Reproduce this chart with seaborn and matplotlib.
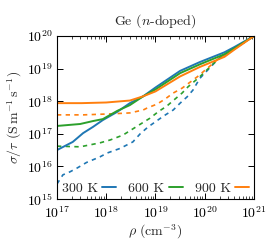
import numpy as np
import pandas as pd
import matplotlib
matplotlib.use("Agg")
import matplotlib.pyplot as plt
import seaborn as sns
from matplotlib.lines import Line2D

# ---- data (log10 values) ----
temps = ["300 K", "600 K", "900 K"]
colors = ["#1f77b4", "#2ca02c", "#ff7f0e"]

logrho_300_solid = [17, 17.32, 17.53, 17.73, 17.93, 18.22, 18.48, 18.75, 19.0, 19.5, 19.9, 20.4, 20.6, 21]
logsig_300_solid = [16.5, 16.75, 17.02, 17.21, 17.42, 17.67, 17.94, 18.15, 18.42, 18.93, 19.20, 19.50, 19.66, 20.0]

logrho_600_solid = [17, 17.47, 17.73, 17.93, 18.22, 18.48, 18.75, 19.0, 19.5, 19.9, 20.4, 20.6, 21]
logsig_600_solid = [17.24, 17.30, 17.39, 17.45, 17.70, 17.88, 18.15, 18.36, 18.86, 19.13, 19.44, 19.62, 20.0]

logrho_900_solid = [17, 17.5, 18.0, 18.48, 18.75, 19.0, 19.5, 19.9, 20.4, 20.6, 21]
logsig_900_solid = [17.94, 17.94, 17.96, 18.02, 18.15, 18.30, 18.76, 19.05, 19.36, 19.58, 20.0]

logrho_300_dash = [17, 17.12, 17.26, 17.41, 17.6, 17.87, 18.02, 18.28, 18.54, 18.69, 18.85, 19.17, 19.36, 19.5, 19.64, 19.76, 19.9, 20.27, 20.6, 21]
logsig_300_dash = [15.46, 15.74, 15.83, 15.95, 16.12, 16.29, 16.41, 16.55, 16.75, 17.0, 17.21, 17.55, 17.73, 17.94, 18.13, 18.34, 18.7, 19.29, 19.62, 20.0]

logrho_600_dash = [17, 17.47, 17.87, 18.08, 18.34, 18.73, 18.89, 19.05, 19.23, 19.4, 19.54, 19.66, 19.9, 20.27, 20.6, 21]
logsig_600_dash = [16.62, 16.60, 16.72, 16.81, 16.96, 17.33, 17.48, 17.67, 17.85, 18.07, 18.25, 18.44, 18.75, 19.29, 19.6, 20.0]

logrho_900_dash = [17, 17.53, 18.08, 18.48, 18.75, 18.83, 19.03, 19.19, 19.36, 19.54, 19.85, 20.27, 20.6, 21]
logsig_900_dash = [17.58, 17.58, 17.61, 17.64, 17.73, 17.79, 17.91, 18.06, 18.25, 18.40, 18.75, 19.29, 19.6, 20.0]

xticks = [1e17, 1e18, 1e19, 1e20, 1e21]
yticks = [1e15, 1e16, 1e17, 1e18, 1e19, 1e20]

solid = [(logrho_300_solid, logsig_300_solid), (logrho_600_solid, logsig_600_solid), (logrho_900_solid, logsig_900_solid)]
dashed = [(logrho_300_dash, logsig_300_dash), (logrho_600_dash, logsig_600_dash), (logrho_900_dash, logsig_900_dash)]

sns.set_theme(style="ticks")
plt.rcParams.update({
    "font.family": ["cmr10", "DejaVu Serif"],
    "mathtext.fontset": "cm",
    "axes.formatter.use_mathtext": True,
    "axes.unicode_minus": False,
    "font.size": 10,
    "xtick.direction": "in",
    "ytick.direction": "in",
    "xtick.top": True,
    "ytick.right": True,
    "xtick.minor.visible": True,
    "ytick.minor.visible": True,
    "axes.edgecolor": "black",
    "axes.linewidth": 0.8,
})

fig = plt.figure(figsize=(2.74, 2.40), dpi=100)
ax = fig.add_axes([0.208, 0.171, 0.719, 0.679])

for (lr, ls), c in zip(dashed, colors):
    sns.lineplot(x=10 ** np.array(lr), y=10 ** np.array(ls), ax=ax, color=c,
                 linewidth=1.2, dashes=False, linestyle=(0, (2.6, 2.6)), legend=False,
                 estimator=None, sort=False)
for (lr, ls), c in zip(solid, colors):
    sns.lineplot(x=10 ** np.array(lr), y=10 ** np.array(ls), ax=ax, color=c,
                 linewidth=1.4, legend=False, estimator=None, sort=False)

ax.set_xscale("log")
ax.set_yscale("log")
ax.set_xlim(1e17, 1e21)
ax.set_ylim(1e15, 1e20)
ax.set_xticks(xticks)
ax.set_yticks(yticks)
ax.tick_params(which="major", length=4, width=0.7, colors="black", labelsize=10)
ax.tick_params(axis="x", which="major", pad=4.5)
ax.tick_params(axis="y", which="major", pad=3)
ax.tick_params(which="minor", length=2, width=0.5, colors="black")

ax.set_xlabel(r"$\rho\ (\mathrm{cm}^{-3})$", fontsize=10, labelpad=1)
ax.set_ylabel(r"$\sigma/\tau\ (\mathrm{S\,m^{-1}\,s^{-1}})$", fontsize=10, labelpad=2)
ax.set_title(r"Ge ($n$-doped)", fontsize=10, pad=8)

handles = [Line2D([], [], color=c, linewidth=1.4) for c in colors]
ax.legend(handles, temps, loc="lower center", ncol=3, markerfirst=False, frameon=False,
          handlelength=1.0, handletextpad=0.3, columnspacing=0.9, borderaxespad=0.1,
          borderpad=0.2, fontsize=10)

fig.savefig("out.png", dpi=100)
